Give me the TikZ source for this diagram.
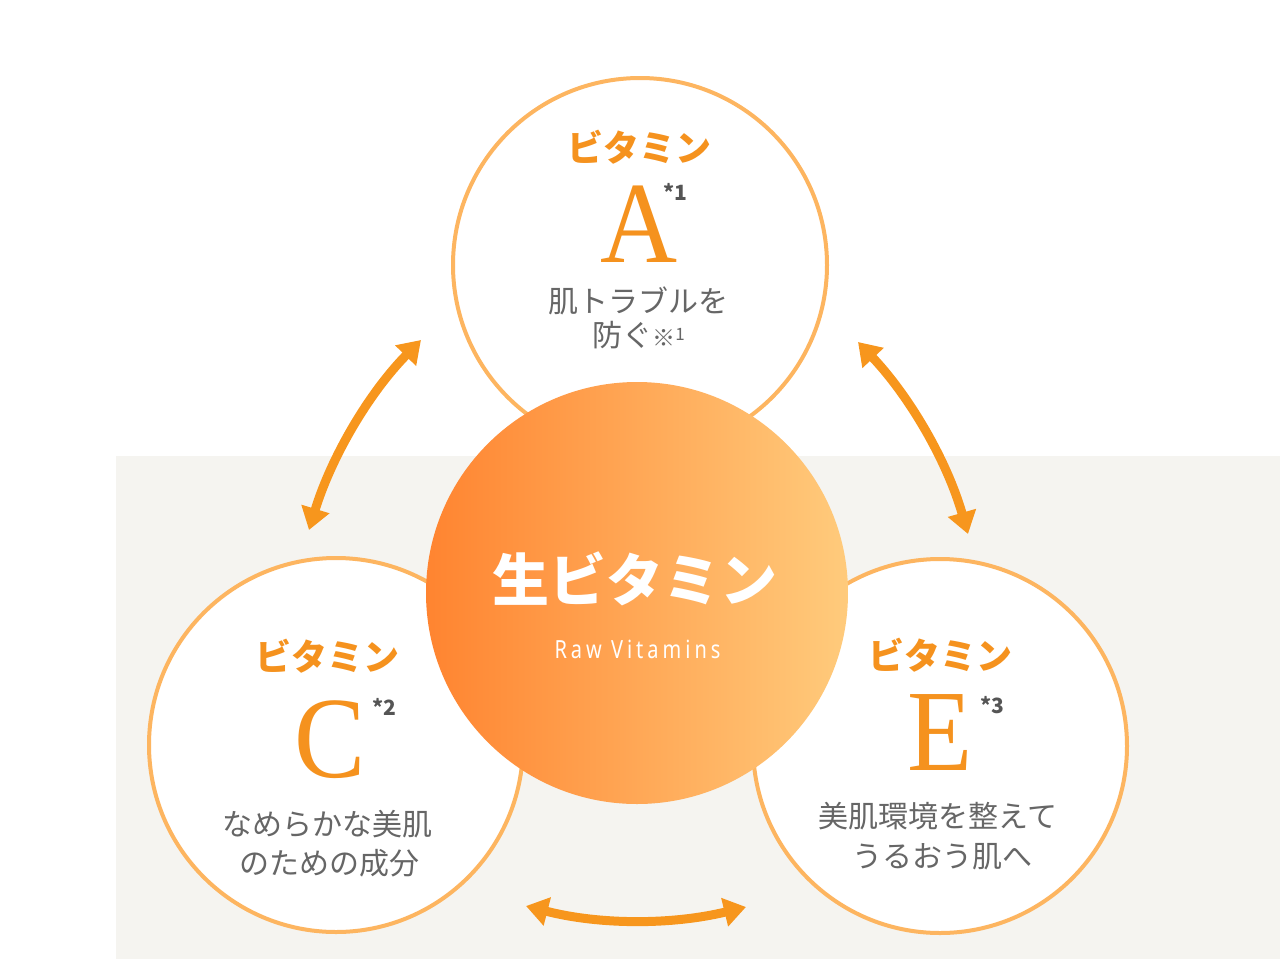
\documentclass[tikz,border=0pt]{standalone}
\usepackage{fontspec}
\usetikzlibrary{arrows.meta}
\newfontfamily\jp{Noto Sans CJK JP}
\newfontfamily\serifA{Liberation Serif}
\newfontfamily\rawf[FakeStretch=0.8,LetterSpace=16]{Noto Sans}
\definecolor{bgc}{HTML}{F5F4F0}
\definecolor{ringc}{HTML}{FDB560}
\definecolor{orng}{HTML}{F5921E}
\definecolor{arrc}{HTML}{F7961D}
\definecolor{txtc}{HTML}{666666}
\definecolor{supc}{HTML}{555555}
\definecolor{gl}{HTML}{FF8430}
\definecolor{gr}{HTML}{FFCB7C}
\tikzset{
  ring/.style={circle, draw=ringc, line width=4pt, fill=white, minimum size=374pt, inner sep=0pt},
  vit/.style={inner sep=0pt, text height=31.7pt, text depth=4.3pt, anchor=center, font=\jp\bfseries\fontsize{36}{36}\selectfont, text=orng},
  body/.style={inner sep=0pt, text height=26.4pt, text depth=3.6pt, anchor=center, font=\jp\fontsize{30}{30}\selectfont, text=txtc},
  big/.style={inner sep=0pt, anchor=base, font=\serifA\fontsize{116}{116}\selectfont, text=orng},
  supx/.style={inner sep=0pt, anchor=base west, font=\jp\bfseries\fontsize{21}{21}\selectfont, text=supc},
  arr/.style={draw=arrc, line width=9pt, {Triangle[length=22pt,width=28pt]}-{Triangle[length=22pt,width=28pt]}},
}
\newcommand\kome{{\fontsize{23}{23}\selectfont ※}{\fontsize{17}{17}\selectfont\raisebox{6pt}{1}}}
\newcommand\narrow[1]{\scalebox{0.92}[1]{#1}}
\begin{document}
\begin{tikzpicture}[x=1pt,y=-1pt]
\useasboundingbox (0,0) rectangle (1280,959);
\fill[bgc] (116,456) rectangle (1280,959);
% outer circles
\node[ring] (A) at (640,265) {};
\node[ring] (C) at (336,745) {};
\node[ring] (E) at (940,746) {};
% core
\node[circle, minimum size=422pt, inner sep=0pt, draw=none, left color=gl, right color=gr] (core) at (637,593) {};
\node[inner sep=0pt, text height=50.2pt, text depth=6.8pt, anchor=center, font=\jp\bfseries\fontsize{57}{57}\selectfont, text=white] (coret) at (635,580) {生ビタミン};
\node[inner sep=0pt, anchor=base, font=\rawf\fontsize{25}{25}\selectfont, text=white] (raw) at (637.5,658) {Raw Vitamins};
% A
\node[vit] (Av) at (639,148) {ビタミン};
\node[big] (Al) at (639,262) {\narrow{A}};
\node[supx] (As) at (663,200) {*1};
\node[body] (Ab1) at (638,301) {肌トラブルを};
\node[body] (Ab2) at (638.5,335) {防ぐ\kome};
% C
\node[vit] (Cv) at (327,657) {ビタミン};
\node[big] (Cl) at (330,777) {\narrow{C}};
\node[supx] (Cs) at (372,715) {*2};
\node[body] (Cb1) at (327.5,824) {なめらかな美肌};
\node[body] (Cb2) at (329.5,863.5) {のための成分};
% E
\node[vit] (Ev) at (940,656) {ビタミン};
\node[big] (El) at (940.5,770) {\narrow{E}};
\node[supx] (Es) at (980,713) {*3};
\node[body] (Eb1) at (938,816) {美肌環境を整えて};
\node[body] (Eb2) at (942.5,856.5) {うるおう肌へ};
% arrows
\coordinate (a1) at (421,340);
\coordinate (a2) at (309,530);
\coordinate (b1) at (858,342);
\coordinate (b2) at (968,534);
\coordinate (c1) at (526,906);
\coordinate (c2) at (746,907);
\draw[arr] (a1) .. controls (368,394) and (331,458) .. (a2);
\draw[arr] (b1) .. controls (910,397) and (947,461) .. (b2);
\draw[arr] (c1) .. controls (600,925) and (672,925) .. (c2);
\end{tikzpicture}
\end{document}
